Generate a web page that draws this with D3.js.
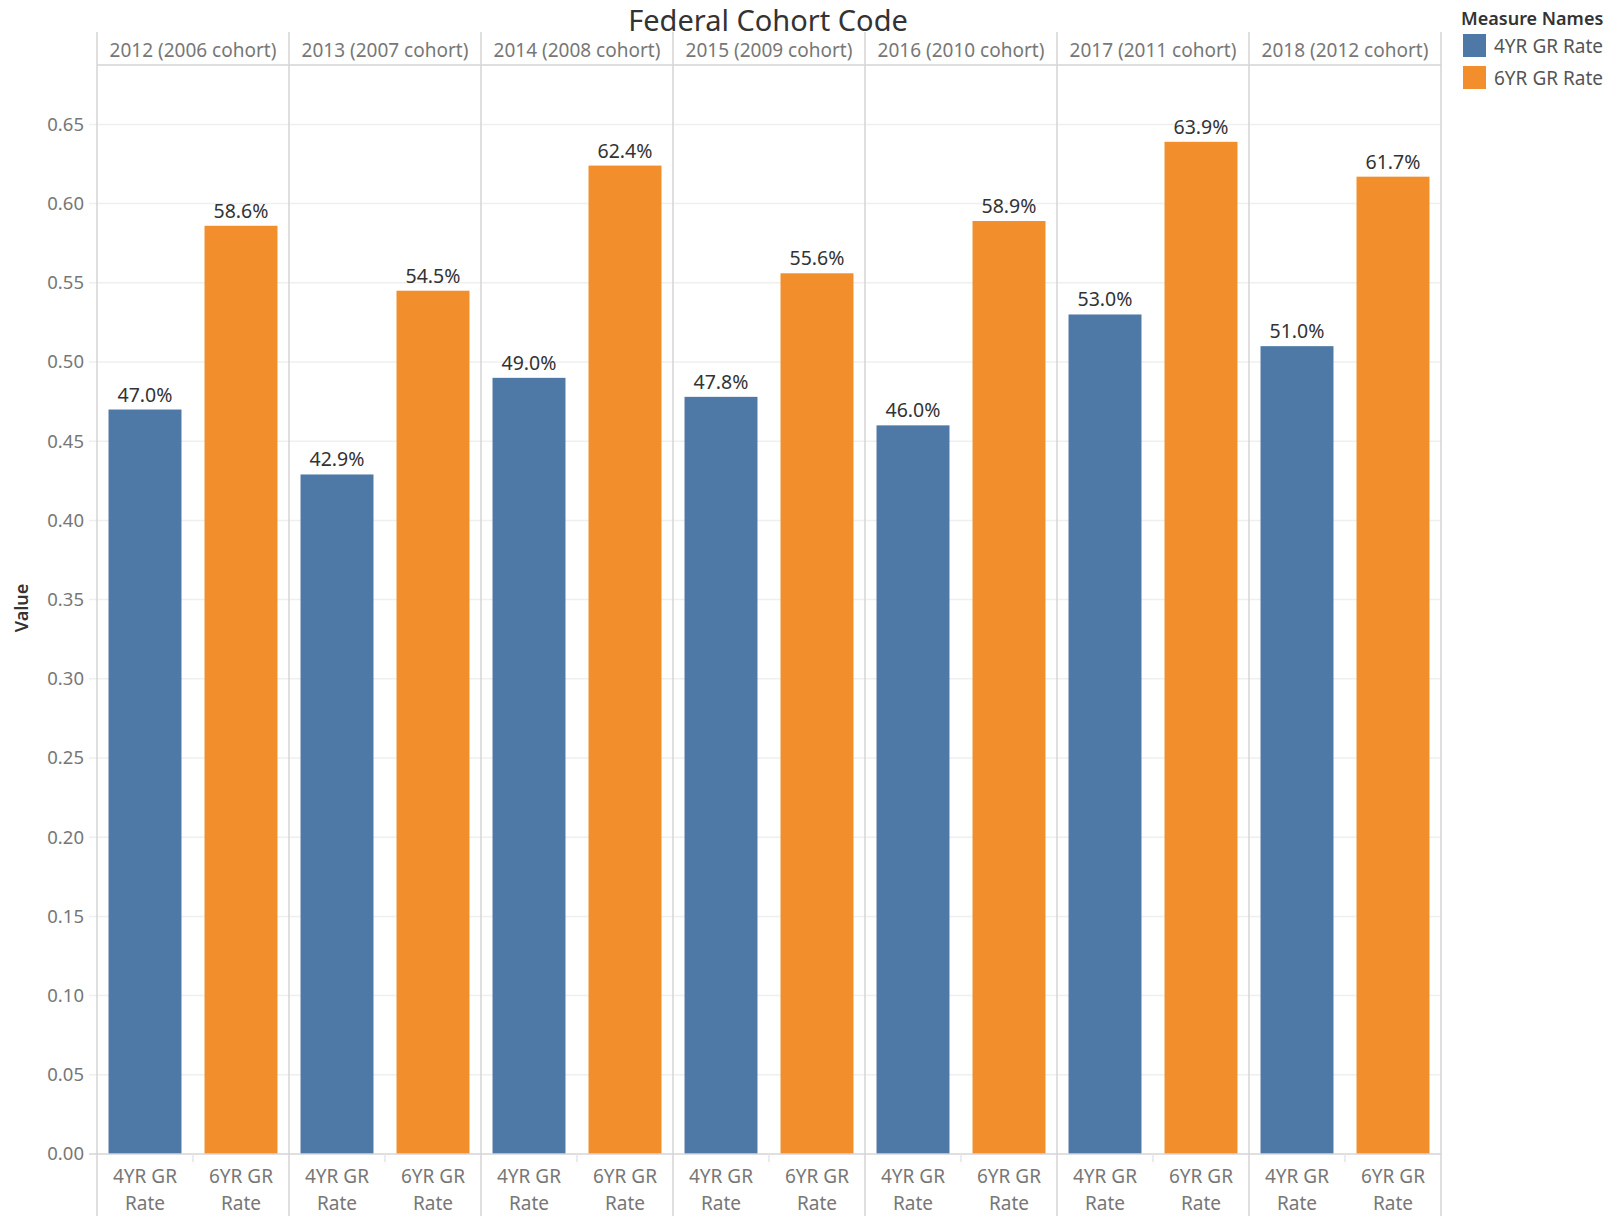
<!DOCTYPE html>
<html>
<head>
<meta charset="utf-8">
<script src="https://cdn.jsdelivr.net/npm/d3@7"></script>
<style>
body{margin:0;background:#fff;}
text{font-family:"Noto Sans",sans-serif;}
</style>
</head>
<body>
<svg id="chart" width="1613" height="1216"></svg>
<script>
// data
const cohorts=["2012 (2006 cohort)","2013 (2007 cohort)","2014 (2008 cohort)","2015 (2009 cohort)","2016 (2010 cohort)","2017 (2011 cohort)","2018 (2012 cohort)"];
const measures=["4YR GR Rate","6YR GR Rate"];
const rate4yr=[0.470,0.429,0.490,0.478,0.460,0.530,0.510];
const rate6yr=[0.586,0.545,0.624,0.556,0.589,0.639,0.617];
const yTicks=[0,0.05,0.10,0.15,0.20,0.25,0.30,0.35,0.40,0.45,0.50,0.55,0.60,0.65];
const colors=["#4e79a7","#f28e2b"];

let rows=[];
cohorts.forEach(function(c,i){
	rows.push({cohort:c,measure:measures[0],val:rate4yr[i]});
	rows.push({cohort:c,measure:measures[1],val:rate6yr[i]});
});

const paneLeft=97, paneRight=1441, headTop=32, plotTop=65, plotBottom=1154, H=1216;
const svg=d3.select("#chart");

const x0=d3.scaleBand().domain(cohorts).range([paneLeft,paneRight]);
const x1=d3.scaleBand().domain(measures).range([0,x0.bandwidth()]).paddingInner(0.24).paddingOuter(0.12);
const y=d3.scaleLinear().domain([0,0.6875]).range([plotBottom,plotTop]);
const color=d3.scaleOrdinal().domain(measures).range(colors);

// title
svg.append("text")
	.attr("x",768).attr("y",31)
	.attr("text-anchor","middle")
	.style("font-size","29px").style("fill","#333")
	.text("Federal Cohort Code");

// gridlines
svg.append("g")
	.selectAll("line")
	.data(yTicks.slice(1))
	.join("line")
	.attr("x1",89).attr("x2",paneRight)
	.attr("y1",d=>y(d)).attr("y2",d=>y(d))
	.style("stroke","#efefef").style("stroke-width",1.5);

// y axis labels
const yAxis=d3.axisLeft(y).tickValues(yTicks).tickFormat(d3.format(".2f")).tickSize(0).tickPadding(13);
const ya=svg.append("g").attr("transform","translate("+paneLeft+",0)").call(yAxis);
ya.select(".domain").remove();
ya.selectAll("text").style("font-size","18.5px").style("fill","#777").style("font-family","Noto Sans");

svg.append("text")
	.attr("transform","translate(28,608) rotate(-90)")
	.attr("text-anchor","middle")
	.style("font-size","18px").style("font-weight","600").style("fill","#333")
	.text("Value");

// bars
svg.append("g")
	.selectAll("rect")
	.data(rows)
	.join("rect")
	.attr("x",d=>x0(d.cohort)+x1(d.measure))
	.attr("width",x1.bandwidth())
	.attr("y",d=>y(d.val))
	.attr("height",d=>y(0)-y(d.val))
	.attr("fill",d=>color(d.measure));

// bar labels
svg.append("g")
	.selectAll("text")
	.data(rows)
	.join("text")
	.attr("x",d=>x0(d.cohort)+x1(d.measure)+x1.bandwidth()/2)
	.attr("y",d=>y(d.val)-8)
	.attr("text-anchor","middle")
	.style("font-size","19.5px").style("fill","#333")
	.text(d=>d3.format(".1%")(d.val));

// zero line, header line
svg.append("line").attr("x1",89).attr("x2",paneRight).attr("y1",plotBottom).attr("y2",plotBottom)
	.style("stroke","#d4d4d4").style("stroke-width",1.5);
svg.append("line").attr("x1",paneLeft).attr("x2",paneRight).attr("y1",plotTop).attr("y2",plotTop)
	.style("stroke","#d4d4d4").style("stroke-width",1.5);

// pane separators
let seps=cohorts.map(c=>x0(c)).concat([paneRight]);
svg.append("g")
	.selectAll("line")
	.data(seps)
	.join("line")
	.attr("x1",d=>d).attr("x2",d=>d)
	.attr("y1",headTop).attr("y2",H)
	.style("stroke","#d4d4d4").style("stroke-width",1.5);

// small ticks between measures at the bottom
svg.append("g")
	.selectAll("line")
	.data(cohorts)
	.join("line")
	.attr("x1",d=>x0(d)+x0.bandwidth()/2).attr("x2",d=>x0(d)+x0.bandwidth()/2)
	.attr("y1",plotBottom).attr("y2",plotBottom+8)
	.style("stroke","#e6e6e6").style("stroke-width",1.5);

// column headers
svg.append("g")
	.selectAll("text")
	.data(cohorts)
	.join("text")
	.attr("x",d=>x0(d)+x0.bandwidth()/2)
	.attr("y",57)
	.attr("text-anchor","middle")
	.style("font-size","19px").style("fill","#777")
	.text(d=>d);

// bottom measure labels
let bl=svg.append("g")
	.selectAll("text")
	.data(rows)
	.join("text")
	.attr("text-anchor","middle")
	.style("font-size","19px").style("fill","#777");
bl.append("tspan")
	.attr("x",d=>x0(d.cohort)+x1(d.measure)+x1.bandwidth()/2)
	.attr("y",1183)
	.text(d=>d.measure.replace(" Rate",""));
bl.append("tspan")
	.attr("x",d=>x0(d.cohort)+x1(d.measure)+x1.bandwidth()/2)
	.attr("y",1210)
	.text("Rate");

// legend
svg.append("text").attr("x",1461).attr("y",25)
	.style("font-size","18px").style("font-weight","600").style("fill","#333")
	.text("Measure Names");
let lg=svg.append("g")
	.selectAll("g")
	.data(measures)
	.join("g")
	.attr("transform",(d,i)=>"translate(1463,"+(34+i*32)+")");
lg.append("rect").attr("width",23).attr("height",23).attr("fill",d=>color(d));
lg.append("text").attr("x",31).attr("y",19)
	.style("font-size","19px").style("fill","#555")
	.text(d=>d);
</script>
</body>
</html>
